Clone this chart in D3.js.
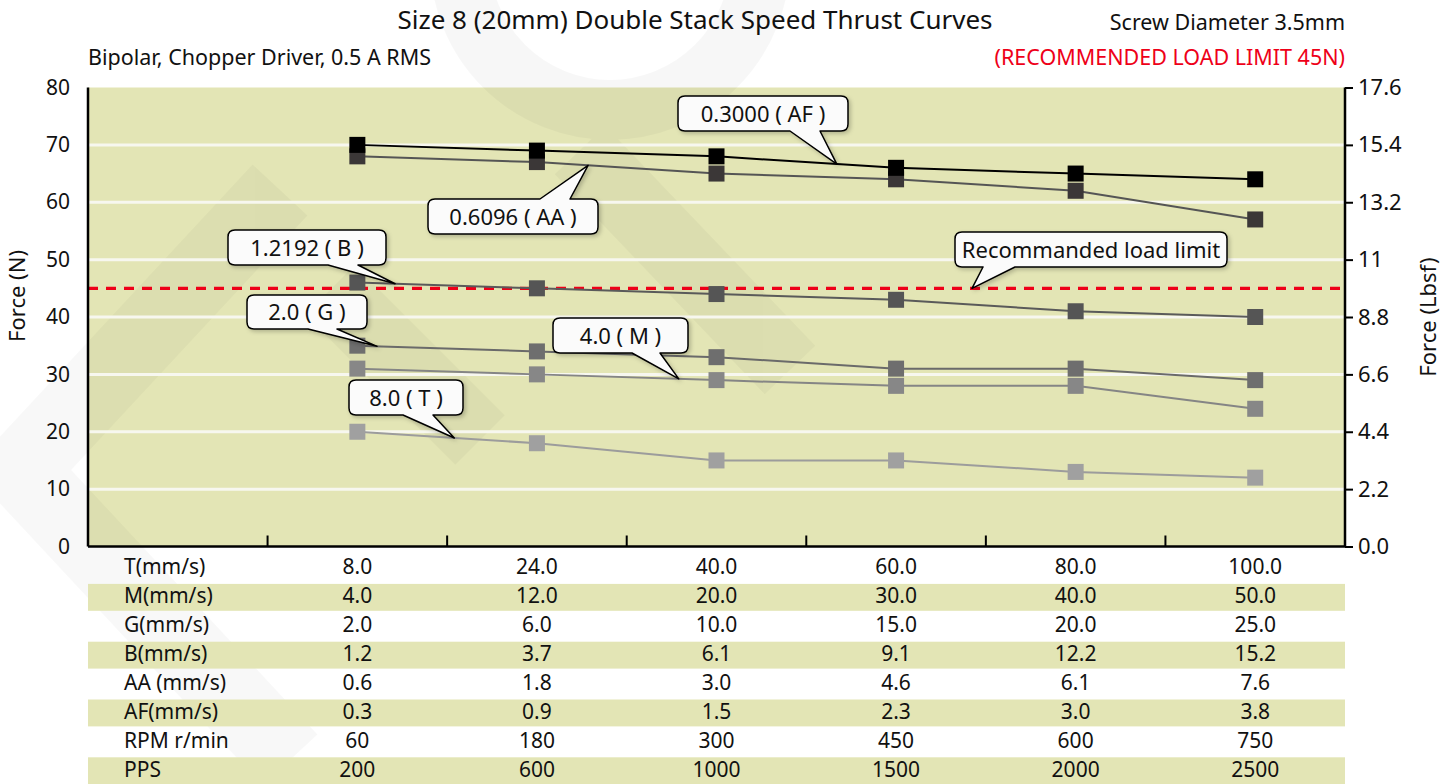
<!DOCTYPE html>
<html>
<head>
<meta charset="utf-8">
<script src="https://cdn.jsdelivr.net/npm/d3@7"></script>
<style>
  body { margin: 0; background: #fff; }
  svg { display: block; font-family: "Noto Sans", "Open Sans", sans-serif; }
</style>
</head>
<body>
<svg id="chart" width="1456" height="784"></svg>
<script>
// speed columns (T mm/s) and thrust in N
var categories = ["8.0", "24.0", "40.0", "60.0", "80.0", "100.0"];
var forceAF = [70, 69, 68, 66, 65, 64];
var forceAA = [68, 67, 65, 64, 62, 57];
var forceB  = [46, 45, 44, 43, 41, 40];
var forceG  = [35, 34, 33, 31, 31, 29];
var forceM  = [31, 30, 29, 28, 28, 24];
var forceT  = [20, 18, 15, 15, 13, 12];
var loadLimit = 45;

var leftTicks = [0, 10, 20, 30, 40, 50, 60, 70, 80];
var rightTickLabels = ["0.0", "2.2", "4.4", "6.6", "8.8", "11", "13.2", "15.4", "17.6"];

// table under the chart
var rowLabels = ["T(mm/s)", "M(mm/s)", "G(mm/s)", "B(mm/s)", "AA (mm/s)", "AF(mm/s)", "RPM r/min", "PPS"];
var speedT  = ["8.0", "24.0", "40.0", "60.0", "80.0", "100.0"];
var speedM  = ["4.0", "12.0", "20.0", "30.0", "40.0", "50.0"];
var speedG  = ["2.0", "6.0", "10.0", "15.0", "20.0", "25.0"];
var speedB  = ["1.2", "3.7", "6.1", "9.1", "12.2", "15.2"];
var speedAA = ["0.6", "1.8", "3.0", "4.6", "6.1", "7.6"];
var speedAF = ["0.3", "0.9", "1.5", "2.3", "3.0", "3.8"];
var rpm     = ["60", "180", "300", "450", "600", "750"];
var pps     = ["200", "600", "1000", "1500", "2000", "2500"];

var series = [
  {name: "0.3000 ( AF )", values: forceAF, marker: "#000000", line: "#000000"},
  {name: "0.6096 ( AA )", values: forceAA, marker: "#3b3737", line: "#555555"},
  {name: "1.2192 ( B )",  values: forceB,  marker: "#555555", line: "#5a5a5a"},
  {name: "2.0 ( G )",     values: forceG,  marker: "#6e6e6e", line: "#6a6a6a"},
  {name: "4.0 ( M )",     values: forceM,  marker: "#878787", line: "#858585"},
  {name: "8.0 ( T )",     values: forceT,  marker: "#a0a0a0", line: "#9c9c9c"}
];

var svg = d3.select("#chart");
var margin = {left: 88, right: 1345, top: 87.5, bottom: 546.5};

var xScale = d3.scaleBand()
    .domain(["label"].concat(categories))
    .range([margin.left, margin.right])
    .paddingInner(0).paddingOuter(0);
var yScale = d3.scaleLinear().domain([0, 80]).range([margin.bottom, margin.top]);
var yRight = d3.scaleLinear().domain([0, 17.6]).range([margin.bottom, margin.top]);
var cx = function(i) { return xScale(categories[i]) + xScale.bandwidth() / 2; };

var defs = svg.append("defs");
var f = defs.append("filter").attr("id", "shadow").attr("x", "-10%").attr("y", "-20%").attr("width", "130%").attr("height", "150%");
f.append("feDropShadow").attr("dx", 2).attr("dy", 2).attr("stdDeviation", 2)
  .attr("flood-color", "#000").attr("flood-opacity", 0.22);

// plot background
svg.append("rect")
  .attr("x", margin.left).attr("y", margin.top)
  .attr("width", margin.right - margin.left).attr("height", margin.bottom - margin.top)
  .attr("fill", "#e3e5b5");

// faint watermark
var wm = svg.append("g").attr("fill", "none").attr("stroke", "#000").attr("opacity", 0.028);
wm.append("path").attr("d", "M280,190 L20,470 L290,760").attr("stroke-width", 75);
wm.append("path").attr("d", "M330,290 L480,440").attr("stroke-width", 70);
wm.append("circle").attr("cx", 610).attr("cy", -40).attr("r", 150).attr("stroke-width", 60);
wm.append("path").attr("d", "M580,150 L790,370").attr("stroke-width", 70);

// gridlines
svg.append("g").selectAll("line")
  .data(leftTicks.filter(function(d) { return d > 0 && d < 80; }))
  .enter().append("line")
  .attr("x1", margin.left).attr("x2", margin.right)
  .attr("y1", function(d) { return yScale(d); })
  .attr("y2", function(d) { return yScale(d); })
  .attr("stroke", "#f7f7ef").attr("stroke-width", 3);

// load limit line
svg.append("line")
  .attr("x1", margin.left).attr("x2", margin.right)
  .attr("y1", yScale(loadLimit)).attr("y2", yScale(loadLimit))
  .attr("stroke", "#ee0018").attr("stroke-width", 3.2)
  .attr("stroke-dasharray", "10,8");

// series lines and markers
var line = d3.line()
  .x(function(d, i) { return cx(i); })
  .y(function(d) { return yScale(d); });

series.slice().reverse().forEach(function(s) {
  svg.append("path")
    .datum(s.values)
    .attr("d", line)
    .attr("fill", "none")
    .attr("stroke", s.line)
    .attr("stroke-width", 2);
});
series.slice().reverse().forEach(function(s) {
  svg.append("g").selectAll("rect")
    .data(s.values)
    .enter().append("rect")
    .attr("x", function(d, i) { return cx(i) - 8; })
    .attr("y", function(d) { return yScale(d) - 8; })
    .attr("width", 16).attr("height", 16)
    .attr("fill", s.marker);
});

// axes
var yAxis = d3.axisLeft(yScale).tickValues(leftTicks).tickSize(0).tickPadding(18);
var gy = svg.append("g").attr("transform", "translate(" + margin.left + ",0)").call(yAxis);
gy.select(".domain").attr("stroke-width", 2.5).attr("d", "M0," + margin.top + "V" + margin.bottom);
gy.selectAll("text").attr("font-size", 21).attr("fill", "#111").attr("font-family", "Noto Sans");

var yAxisR = d3.axisRight(yRight)
  .tickValues(rightTickLabels.map(Number))
  .tickSize(8).tickPadding(5)
  .tickFormat(function(d, i) { return rightTickLabels[i]; });
var gr = svg.append("g").attr("transform", "translate(" + margin.right + ",0)").call(yAxisR);
gr.select(".domain").attr("stroke-width", 2.5).attr("d", "M0," + margin.top + "V" + margin.bottom);
gr.selectAll(".tick line").attr("stroke-width", 2);
gr.selectAll("text").attr("font-size", 22).attr("fill", "#111").attr("font-family", "Noto Sans");

// x axis base line with inward ticks between columns
svg.append("line")
  .attr("x1", margin.left).attr("x2", margin.right)
  .attr("y1", margin.bottom).attr("y2", margin.bottom)
  .attr("stroke", "#000").attr("stroke-width", 2.5);
svg.append("g").selectAll("line")
  .data(categories)
  .enter().append("line")
  .attr("x1", function(d) { return xScale(d); })
  .attr("x2", function(d) { return xScale(d); })
  .attr("y1", margin.bottom).attr("y2", margin.bottom - 11)
  .attr("stroke", "#000").attr("stroke-width", 2);

// callouts
var callouts = [
  {text: "0.3000 ( AF )", s: 0, seg: 2, t: 0.67, box: [678, 96, 170, 35], side: "bottom", base: [790, 820]},
  {text: "0.6096 ( AA )", s: 1, seg: 1, t: 0.285, box: [428, 199, 170, 35], side: "top", base: [540, 570]},
  {text: "1.2192 ( B )",  s: 2, seg: 0, t: 0.21, box: [228, 230, 158, 35], side: "bottom", base: [328, 358]},
  {text: "Recommanded load limit", s: -1, x: 972, box: [955, 232, 272, 35], side: "bottom", base: [983, 1015]},
  {text: "2.0 ( G )",     s: 3, seg: 0, t: 0.11, box: [247, 295, 120, 34], side: "bottom", base: [308, 337]},
  {text: "4.0 ( M )",     s: 4, seg: 1, t: 0.79, box: [553, 318, 135, 35], side: "bottom", base: [632, 660]},
  {text: "8.0 ( T )",     s: 5, seg: 0, t: 0.54, box: [349, 380, 114, 35], side: "bottom", base: [403, 433]}
];

function calloutPath(x, y, w, h, r, side, b1, b2, tx, ty) {
  var p = "M" + (x + r) + "," + y;
  if (side === "top") p += "L" + b1 + "," + y + "L" + tx + "," + ty + "L" + b2 + "," + y;
  p += "L" + (x + w - r) + "," + y + "Q" + (x + w) + "," + y + " " + (x + w) + "," + (y + r);
  p += "L" + (x + w) + "," + (y + h - r) + "Q" + (x + w) + "," + (y + h) + " " + (x + w - r) + "," + (y + h);
  if (side === "bottom") p += "L" + b2 + "," + (y + h) + "L" + tx + "," + ty + "L" + b1 + "," + (y + h);
  p += "L" + (x + r) + "," + (y + h) + "Q" + x + "," + (y + h) + " " + x + "," + (y + h - r);
  p += "L" + x + "," + (y + r) + "Q" + x + "," + y + " " + (x + r) + "," + y + "Z";
  return p;
}

callouts.forEach(function(c) {
  var tx, ty;
  if (c.s < 0) {
    tx = c.x; ty = yScale(loadLimit);
  } else {
    var v = series[c.s].values;
    tx = cx(c.seg) + (cx(c.seg + 1) - cx(c.seg)) * c.t;
    ty = yScale(v[c.seg] + (v[c.seg + 1] - v[c.seg]) * c.t);
  }
  var b = c.box;
  svg.append("path")
    .attr("d", calloutPath(b[0], b[1], b[2], b[3], 7, c.side, c.base[0], c.base[1], tx, ty))
    .attr("fill", "#fbfbfb").attr("stroke", "#000").attr("stroke-width", 1.5)
    .attr("stroke-linejoin", "round")
    .attr("filter", "url(#shadow)");
  svg.append("text")
    .attr("x", b[0] + b[2] / 2).attr("y", b[1] + b[3] / 2 + 8)
    .attr("text-anchor", "middle").attr("font-size", 22).attr("fill", "#111")
    .text(c.text);
});

// titles
svg.append("text").attr("x", 695).attr("y", 29).attr("text-anchor", "middle")
  .attr("font-size", 26).attr("fill", "#111")
  .text("Size 8 (20mm) Double Stack Speed Thrust Curves");
svg.append("text").attr("x", 1345).attr("y", 30).attr("text-anchor", "end")
  .attr("font-size", 21.5).attr("fill", "#111").text("Screw Diameter 3.5mm");
svg.append("text").attr("x", 88).attr("y", 65)
  .attr("font-size", 21.5).attr("fill", "#111").text("Bipolar, Chopper Driver, 0.5 A RMS");
svg.append("text").attr("x", 1345).attr("y", 65).attr("text-anchor", "end")
  .attr("font-size", 21.5).attr("fill", "#ee0018").text("(RECOMMENDED LOAD LIMIT 45N)");

svg.append("text").attr("transform", "translate(25,296) rotate(-90)")
  .attr("text-anchor", "middle").attr("font-size", 22).attr("fill", "#111").text("Force (N)");
svg.append("text").attr("transform", "translate(1436,317) rotate(-90)")
  .attr("text-anchor", "middle").attr("font-size", 22).attr("fill", "#111").text("Force (Lbsf)");

// table
var tableData = [speedT, speedM, speedG, speedB, speedAA, speedAF, rpm, pps];
var rowTop = 553, rowH = 28.9;
var rows = svg.append("g").selectAll("g")
  .data(tableData)
  .enter().append("g")
  .attr("transform", function(d, i) { return "translate(0," + (rowTop + i * rowH) + ")"; });
rows.filter(function(d, i) { return i % 2 === 1; })
  .append("rect")
  .attr("x", margin.left).attr("width", margin.right - margin.left)
  .attr("y", 2).attr("height", rowH - 2)
  .attr("fill", "#e3e5b5");
rows.append("text")
  .attr("x", 124).attr("y", rowH / 2 + 7)
  .attr("font-size", 21).attr("fill", "#111")
  .text(function(d, i) { return rowLabels[i]; });
rows.selectAll("text.val")
  .data(function(d) { return d; })
  .enter().append("text").attr("class", "val")
  .attr("x", function(d, i) { return cx(i); })
  .attr("y", rowH / 2 + 7)
  .attr("text-anchor", "middle").attr("font-size", 21).attr("fill", "#111")
  .text(function(d) { return d; });
</script>
</body>
</html>
